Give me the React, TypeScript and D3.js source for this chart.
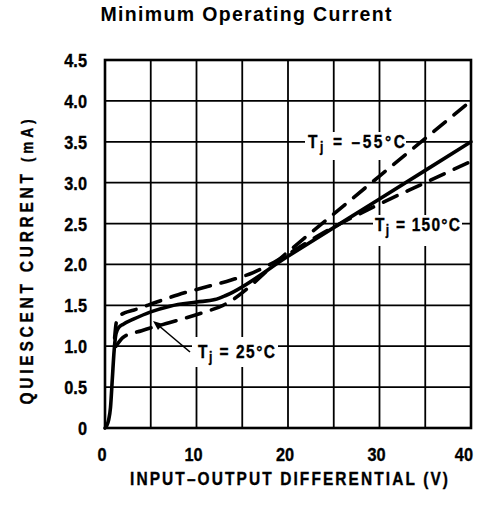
import React from "react";
import * as d3 from "d3";

const W = 484;
const H = 510;

// x ticks (V) and y ticks (mA)
const xTicks = [0, 10, 20, 30, 40];
const yTicks = [0, 0.5, 1.0, 1.5, 2.0, 2.5, 3.0, 3.5, 4.0, 4.5];
const yTickLabels = ["0", "0.5", "1.0", "1.5", "2.0", "2.5", "3.0", "3.5", "4.0", "4.5"];
const xGrid = [0, 5, 10, 15, 20, 25, 30, 35, 40];

// Tj = 25°C (solid)
const v25 = [0, 0.2, 0.4, 0.6, 0.8, 1.0, 1.2, 1.5, 2, 3.1, 5, 7.1, 10, 12, 13.2, 20, 30, 40];
const i25 = [0, 0.03, 0.1, 0.25, 0.6, 0.95, 1.15, 1.23, 1.27, 1.33, 1.42, 1.49, 1.54, 1.57, 1.62, 2.1, 2.8, 3.5];

// Tj = -55°C (dashed)
const vM55 = [1.2, 2.0, 4, 7.1, 10.4, 12.9, 20, 30, 40];
const iM55 = [1.0, 1.11, 1.19, 1.29, 1.4, 1.5, 2.155, 3.08, 4.0];

// Tj = 150°C (dashed)
const v150 = [1.05, 1.25, 1.6, 2.2, 3.1, 5.65, 8, 11.2, 13.8, 16.2, 19.9, 23.9, 29.3, 34.8, 40];
const i150 = [1.1, 1.3, 1.37, 1.41, 1.44, 1.54, 1.63, 1.73, 1.81, 1.9, 2.12, 2.39, 2.7, 2.99, 3.26];

const SANS = "'Liberation Sans', Arial, Helvetica, sans-serif";
const SX = 0.86; // horizontal condensing

function CText(props: {
  x: number;
  y: number;
  anchor?: "start" | "middle" | "end";
  size?: number;
  len?: number;
  rotate?: number;
  children: React.ReactNode;
}) {
  const { x, y, anchor = "start", size = 18, len, rotate = 0, children } = props;
  return (
    <text
      transform={`translate(${x},${y}) rotate(${rotate}) scale(${SX},1)`}
      textAnchor={anchor}
      fontFamily={SANS}
      fontWeight={700}
      fontSize={size}
      stroke="#000"
      strokeWidth={0.35}
      textLength={len ? len / SX : undefined}
      lengthAdjust={len ? "spacing" : undefined}
    >
      {children}
    </text>
  );
}

export default function App() {
  const x = d3.scaleLinear().domain([0, 40]).range([105, 471]);
  const y = d3.scaleLinear().domain([0, 4.5]).range([428, 60]);

  const line = d3
    .line<[number, number]>()
    .x((d) => x(d[0]))
    .y((d) => y(d[1]))
    .curve(d3.curveMonotoneX);

  const zip = (a: number[], b: number[]) => a.map((v, i) => [v, b[i]] as [number, number]);

  const p25 = line(zip(v25, i25)) || "";
  const pM55 = line(zip(vM55, iM55)) || "";
  const p150 = line(zip(v150, i150)) || "";

  return (
    <svg
      width={W}
      height={H}
      style={{ position: "absolute", left: 0, top: 0, background: "#fff" }}
    >
      <rect x={0} y={0} width={W} height={H} fill="#fff" />
      {/* title */}
      <text
        x={246}
        y={21}
        textAnchor="middle"
        fontFamily={SANS}
        fontWeight={700}
        fontSize={19.5}
        textLength={291}
        lengthAdjust="spacing"
      >
        Minimum Operating Current
      </text>

      {/* grid */}
      {xGrid.map((v) => (
        <line key={"gx" + v} x1={x(v)} x2={x(v)} y1={y(0)} y2={y(4.5)} stroke="#000" strokeWidth={1.8} />
      ))}
      {yTicks.map((v) => (
        <line key={"gy" + v} x1={x(0)} x2={x(40)} y1={y(v)} y2={y(v)} stroke="#000" strokeWidth={1.8} />
      ))}
      <rect
        x={x(0)}
        y={y(4.5)}
        width={x(40) - x(0)}
        height={y(0) - y(4.5)}
        fill="none"
        stroke="#000"
        strokeWidth={2.6}
      />

      {/* label backgrounds */}
      <rect x={305} y={132} width={101} height={28} fill="#fff" />
      <rect x={373} y={215} width={89} height={31} fill="#fff" />
      <rect x={192} y={337} width={86} height={30} fill="#fff" />

      {/* curves */}
      <path d={p25} fill="none" stroke="#000" strokeWidth={3.6} strokeLinejoin="round" strokeLinecap="round" />
      <path
        d={pM55}
        fill="none"
        stroke="#000"
        strokeWidth={3.6}
        strokeDasharray="15 11"
        strokeLinecap="round"
      />
      <path
        d={p150}
        fill="none"
        stroke="#000"
        strokeWidth={3.6}
        strokeDasharray="15 11"
        strokeLinecap="round"
      />

      {/* labels */}
      <CText x={308} y={148} len={97}>
        T<tspan dy={4} fontSize={14}>j</tspan>
        <tspan dy={-4}> = –55°C</tspan>
      </CText>
      <CText x={375} y={231} len={85}>
        T<tspan dy={4} fontSize={14}>j</tspan>
        <tspan dy={-4}> = 150°C</tspan>
      </CText>
      <CText x={198} y={358} len={77}>
        T<tspan dy={4} fontSize={14}>j</tspan>
        <tspan dy={-4}> = 25°C</tspan>
      </CText>
      {/* arrow for 25°C */}
      <line x1={190} y1={352} x2={158} y2={325} stroke="#000" strokeWidth={1.6} />
      <path d="M153,321 L163,324 L158,330 Z" fill="#000" />

      {/* y tick labels */}
      {yTicks.map((v, i) => (
        <CText key={"yl" + v} x={87} y={y(v) + 7} anchor="end" size={19}>
          {yTickLabels[i]}
        </CText>
      ))}
      {/* x tick labels */}
      {xTicks.map((v, i) => (
        <CText
          key={"xl" + v}
          x={i === xTicks.length - 1 ? x(v) + 2 : x(v) - 3}
          y={461}
          anchor={i === xTicks.length - 1 ? "end" : "middle"}
          size={19}
        >
          {String(v)}
        </CText>
      ))}

      {/* axis titles */}
      <CText x={289} y={485} anchor="middle" len={318}>
        INPUT–OUTPUT DIFFERENTIAL (V)
      </CText>
      <CText x={33} y={262} anchor="middle" len={285} rotate={-90}>
        QUIESCENT CURRENT <tspan fontSize={16}>(mA)</tspan>
      </CText>
    </svg>
  );
}
